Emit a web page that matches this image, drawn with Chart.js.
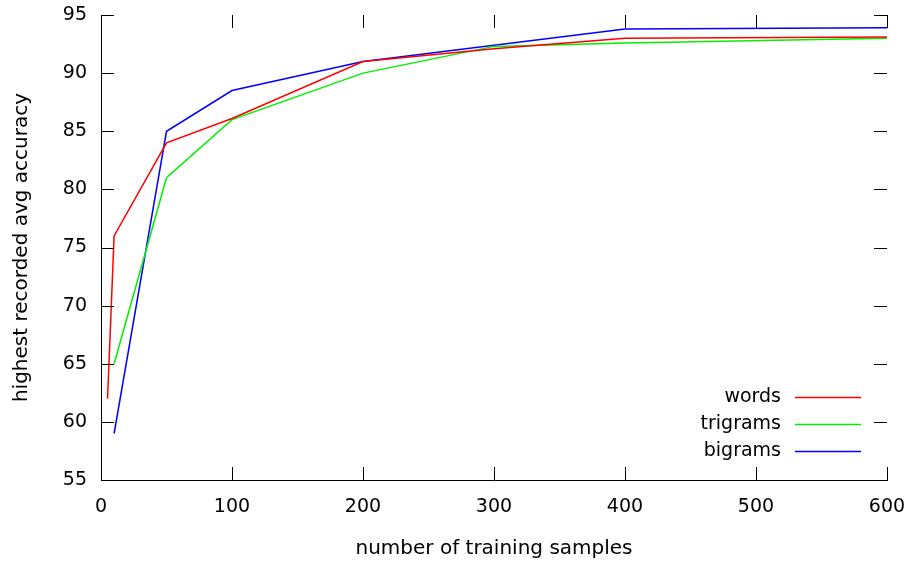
<!DOCTYPE html>
<html>
<head>
<meta charset="utf-8">
<title>accuracy vs training samples</title>
<script src="https://cdn.jsdelivr.net/npm/chart.js@4.4.1/dist/chart.umd.min.js"></script>
<style>
  html, body { margin: 0; padding: 0; background: #fff; }
  #chart { display: block; }
</style>
</head>
<body>
<canvas id="chart" width="906" height="564"></canvas>
<script>
// data
const wordsX = [5, 10, 50, 100, 200, 300, 400, 600];
const wordsY = [62, 76, 84, 86.1, 91, 92.1, 93, 93.1];

const trigramsX = [10, 50, 100, 200, 300, 400, 600];
const trigramsY = [65, 81, 86, 90, 92.3, 92.6, 93];

const bigramsX = [10, 50, 100, 200, 300, 400, 600];
const bigramsY = [59, 85, 88.5, 91, 92.4, 93.8, 93.9];

const xTicks = [0, 100, 200, 300, 400, 500, 600];
const yTicks = [55, 60, 65, 70, 75, 80, 85, 90, 95];

const FONT = "'DejaVu Sans', sans-serif";

function points(xs, ys) {
    return xs.map((x, i) => ({ x: x, y: ys[i] }));
}

// gnuplot style: ticks pointing inwards, mirrored on top and right
const innerTicks = {
    id: 'innerTicks',
    afterDraw(chart) {
        const ctx = chart.ctx;
        const a = chart.chartArea;
        const xs = chart.scales.x, ys = chart.scales.y;
        const len = 13;
        ctx.save();
        ctx.strokeStyle = '#000';
        ctx.lineWidth = 1;
        ctx.beginPath();
        xTicks.forEach(v => {
            const px = Math.round(xs.getPixelForValue(v)) + 0.5;
            ctx.moveTo(px, a.bottom); ctx.lineTo(px, a.bottom - len);
            ctx.moveTo(px, a.top); ctx.lineTo(px, a.top + len);
        });
        yTicks.forEach(v => {
            const py = Math.round(ys.getPixelForValue(v)) + 0.5;
            ctx.moveTo(a.left, py); ctx.lineTo(a.left + len, py);
            ctx.moveTo(a.right, py); ctx.lineTo(a.right - len, py);
        });
        ctx.stroke();
        ctx.restore();
    }
};

// legend inside the plot, text right aligned before the sample line
const keyBox = {
    id: 'keyBox',
    afterDraw(chart) {
        const ctx = chart.ctx;
        ctx.save();
        ctx.font = '19px ' + FONT;
        ctx.textAlign = 'right';
        ctx.textBaseline = 'middle';
        chart.data.datasets.forEach((ds, i) => {
            const y = 397 + i * 27;
            ctx.fillStyle = '#000';
            ctx.fillText(ds.label, 781, y);
            ctx.strokeStyle = ds.borderColor;
            ctx.lineWidth = 1.5;
            ctx.beginPath();
            ctx.moveTo(795, y + 0.5);
            ctx.lineTo(861, y + 0.5);
            ctx.stroke();
        });
        ctx.restore();
    }
};

const line = (label, data, color) => ({
    label: label,
    data: data,
    borderColor: color,
    backgroundColor: color,
    borderWidth: 1.5,
    pointRadius: 0,
    tension: 0,
    fill: false
});

new Chart(document.getElementById('chart'), {
    type: 'line',
    data: {
        datasets: [
            line('words', points(wordsX, wordsY), '#ff0000'),
            line('trigrams', points(trigramsX, trigramsY), '#00f000'),
            line('bigrams', points(bigramsX, bigramsY), '#0000ff')
        ]
    },
    options: {
        responsive: false,
        animation: false,
        devicePixelRatio: 1,
        layout: {
            padding: { top: 15, right: 19, left: 0, bottom: 0 }
        },
        plugins: {
            legend: { display: false },
            tooltip: { enabled: false }
        },
        scales: {
            x: {
                type: 'linear',
                min: 0,
                max: 600,
                afterFit: s => {
                    s.height = 84;
                    s.paddingLeft = 0;
                    s.paddingRight = 0;
                },
                afterBuildTicks: s => { s.ticks = xTicks.map(v => ({ value: v })); },
                ticks: {
                    color: '#000',
                    font: { family: FONT, size: 19 },
                    padding: 16,
                    maxRotation: 0
                },
                grid: { display: false, drawTicks: false },
                border: { display: true, color: '#000', width: 1 },
                title: {
                    display: true,
                    text: 'number of training samples',
                    color: '#000',
                    font: { family: FONT, size: 20 },
                    padding: { top: 0, bottom: 3 }
                }
            },
            y: {
                min: 55,
                max: 95,
                afterFit: s => {
                    s.width = 101;
                    s.paddingTop = 0;
                    s.paddingBottom = 0;
                },
                afterBuildTicks: s => { s.ticks = yTicks.map(v => ({ value: v })); },
                ticks: {
                    color: '#000',
                    font: { family: FONT, size: 19 },
                    padding: 14
                },
                grid: { display: false, drawTicks: false },
                border: { display: true, color: '#000', width: 1 },
                title: {
                    display: true,
                    text: 'highest recorded avg accuracy',
                    color: '#000',
                    font: { family: FONT, size: 20 },
                    padding: { top: 10, bottom: 0 }
                }
            }
        }
    },
    plugins: [innerTicks, keyBox]
});
</script>
</body>
</html>
